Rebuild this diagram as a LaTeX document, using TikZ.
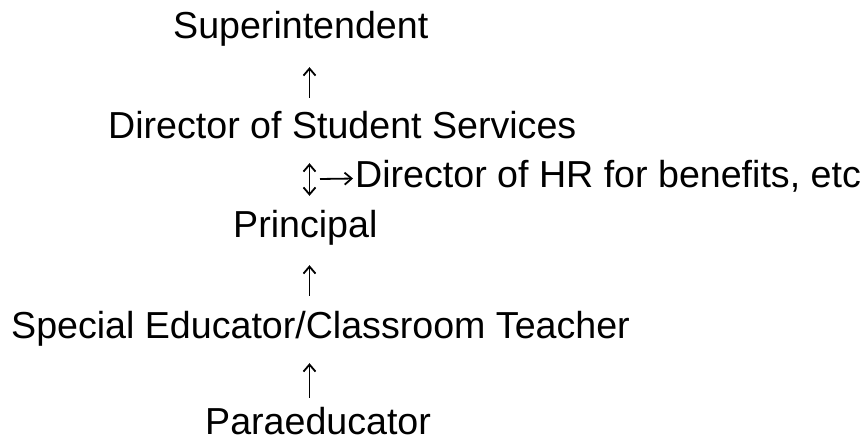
\documentclass[tikz,border=0pt]{standalone}
\usepackage{fontspec}
\setmainfont{Liberation Sans}
\usetikzlibrary{arrows.meta}
\begin{document}
\begin{tikzpicture}[x=1pt,y=-1pt,
  role/.style={anchor=base west,inner sep=0pt,text height=27pt,text depth=8pt,
    font=\fontsize{37.6}{44}\selectfont},
  link/.style={line width=1.8pt,-{Straight Barb[length=7pt,width=12pt,line width=1.8pt]}},
  twoway/.style={line width=1.8pt,{Straight Barb[length=7pt,width=12pt,line width=1.8pt]}-{Straight Barb[length=7pt,width=12pt,line width=1.8pt]}}]
  \useasboundingbox (0,0) rectangle (862,438);
  % chain of roles, one line each
  \node[role] (sup)  at (173,39)  {Superintendent};
  \node[role] (dss)  at (108,139) {Director of Student Services};
  \node[role] (hr)   at (355,188) {Director of HR for benefits, etc};
  \node[role] (prin) at (233,238) {Principal};
  \node[role] (spec) at (11,338)  {Special Educator/Classroom Teacher};
  \node[role,text depth=0pt] (para) at (205,434) {Paraeducator};
  % common column of the vertical links
  \coordinate (col) at (309.5,0);
  \coordinate (hrs) at (320,179);
  % reporting links
  \draw[link,shorten <=14pt,shorten >=20pt] (dss.north -| col) -- (sup.south -| col);
  \draw[twoway,shorten <=16pt,shorten >=15pt] (dss.south -| col) -- (prin.north -| col);
  \draw[link,shorten >=2pt] (hrs) -- (hr.west);
  \draw[link,shorten <=15pt,shorten >=19pt] (spec.north -| col) -- (prin.south -| col);
  \draw[link,shorten <=9pt,shorten >=17pt] (para.north -| col) -- (spec.south -| col);
\end{tikzpicture}
\end{document}
